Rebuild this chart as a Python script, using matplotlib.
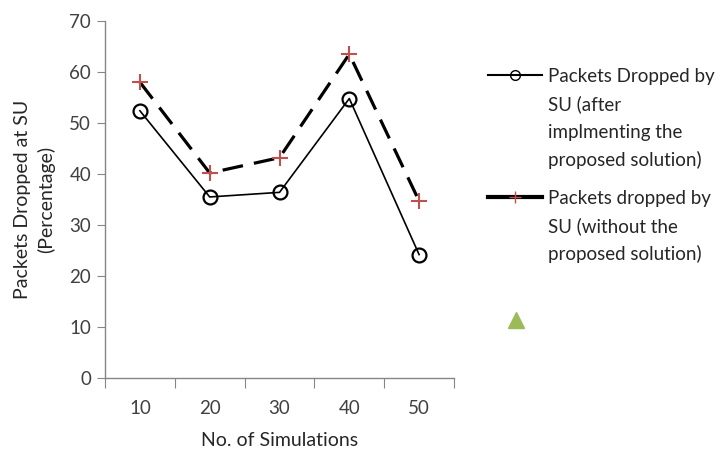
import matplotlib.pyplot as plt
import matplotlib
from matplotlib.lines import Line2D

matplotlib.rcParams.update({
    'font.family': ['Lato', 'DejaVu Sans'],
    'font.size': 12,
})

categories = ['10', '20', '30', '40', '50']
after_solution = [52.4, 35.5, 36.4, 54.8, 24.2]
without_solution = [58.0, 40.2, 43.2, 63.5, 34.7]
label_after = 'Packets Dropped by\nSU (after\nimplmenting the\nproposed solution)'
label_without = 'Packets dropped by\nSU (without the\nproposed solution)'

W, H = 721, 450
fig = plt.figure(figsize=(W / 100, H / 100), dpi=100)
ax = fig.add_axes([105 / W, 1 - 378 / H, 349 / W, 357 / H])

x = range(len(categories))
ax.plot(x, after_solution, color='black', lw=1.2, marker='o', ms=10,
        mfc='none', mec='black', mew=1.6)
ax.plot(x, without_solution, color='black', lw=2.3, dashes=(6.5, 3.5),
        marker='+', ms=11, mec='#C0504D', mew=1.5)

ax.set_xlim(-0.5, 4.5)
ax.set_ylim(0, 70)
ax.set_yticks(range(0, 71, 10))
ax.set_xticks([i - 0.5 for i in range(6)])
ax.set_xticklabels([])
ax.set_xticks(list(x), minor=True)
ax.set_xticklabels(categories, minor=True)
ax.tick_params(axis='x', which='minor', length=0, pad=16, labelsize=13.5, labelcolor='#404040')
ax.tick_params(axis='x', which='major', length=7, color='#868686', direction='out')
ax.tick_params(axis='y', length=6, color='#868686', labelsize=13.5, labelcolor='#404040', pad=4)
for s in ['top', 'right']:
    ax.spines[s].set_visible(False)
for s in ['left', 'bottom']:
    ax.spines[s].set_color('#868686')
    ax.spines[s].set_linewidth(1.0)

ax.set_xlabel('No. of Simulations', fontsize=14, labelpad=11, color='#262626')
ax.set_ylabel('Packets Dropped at SU\n(Percentage)', fontsize=14, labelpad=10,
              linespacing=1.42, color='#262626')

# legend drawn by hand so the key sits beside the first line of each label
legend_rows = [
    (label_after, 75, dict(lw=1.5, marker='o', ms=7, mfc='none', mec='black')),
    (label_without, 197, dict(lw=3, marker='+', ms=9, mec='#C0504D', mew=1.0)),
]
for label, yc, style in legend_rows:
    fig.add_artist(Line2D([488 / W, 515 / W, 542 / W], [1 - yc / H] * 3,
                          color='black', markevery=[1], transform=fig.transFigure, **style))
    for k, line in enumerate(label.split('\n')):
        fig.text(548 / W, 1 - (yc + 7 + 28 * k) / H, line, fontsize=13.5,
                 color='#262626', va='baseline', ha='left')

# stray triangle symbol in the legend area
fig.add_artist(Line2D([516 / W], [1 - 320 / H], marker='^', ms=11,
                      color='#9BBB59', transform=fig.transFigure))

fig.savefig('out.png', dpi=100)
